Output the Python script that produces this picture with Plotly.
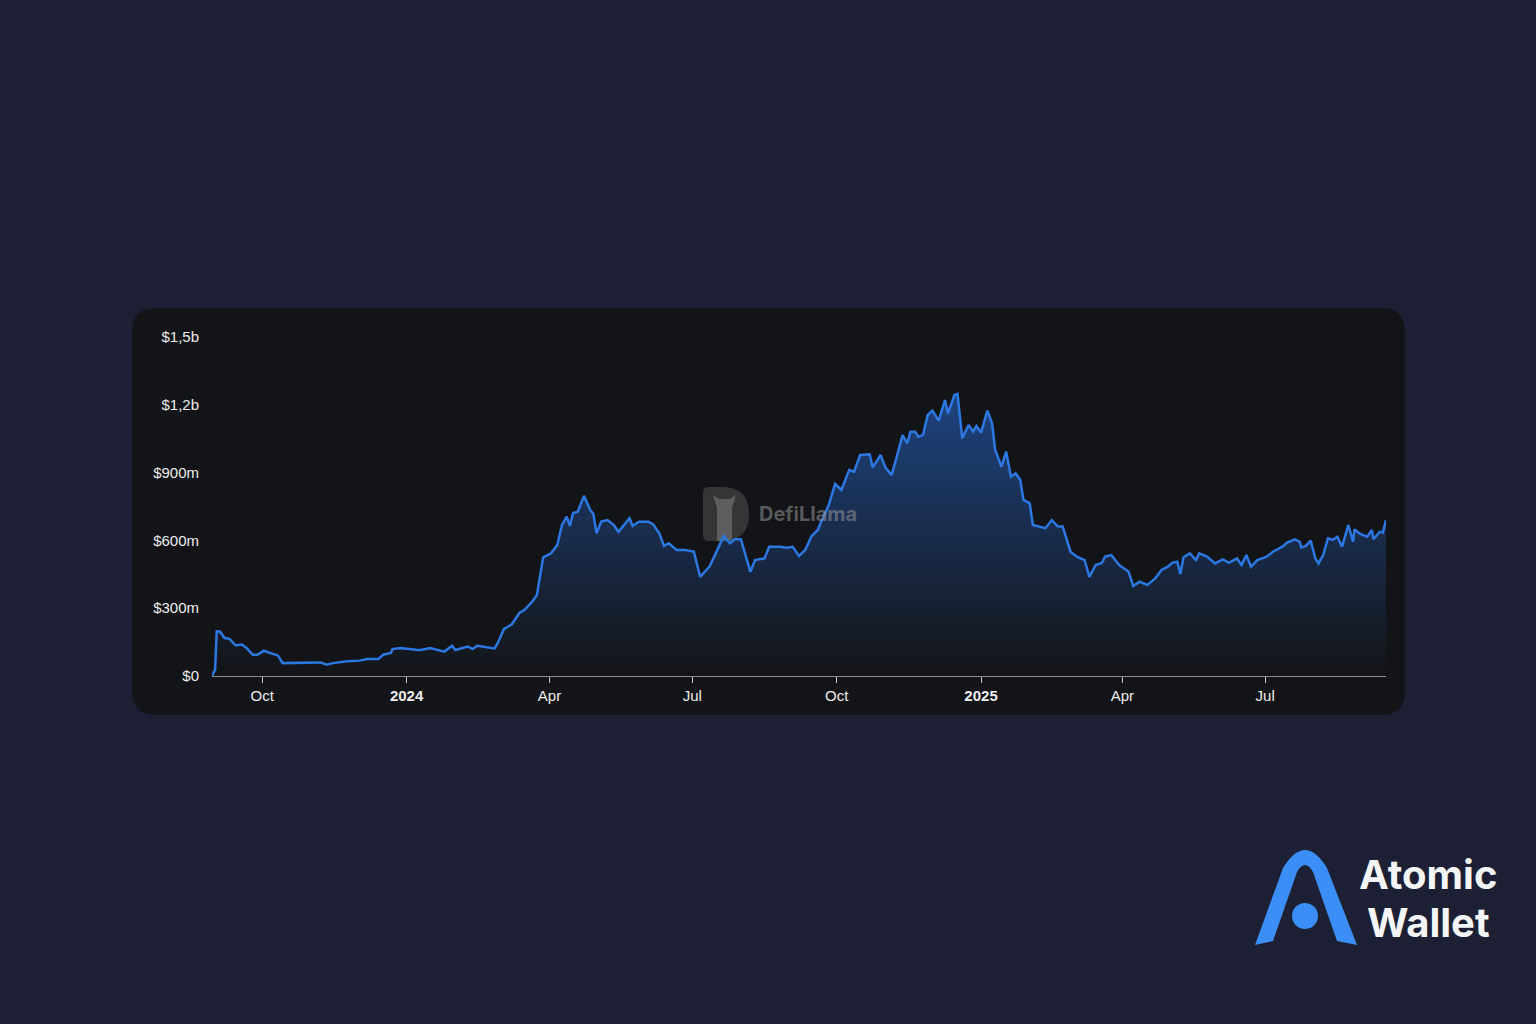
import plotly.graph_objects as go

# ---- data ----
dates = [
    "2023-08-30", "2023-09-01", "2023-09-02", "2023-09-04", "2023-09-07", "2023-09-10", "2023-09-14",
    "2023-09-18", "2023-09-21", "2023-09-25", "2023-09-28", "2023-10-02", "2023-10-06", "2023-10-11",
    "2023-10-14", "2023-10-19", "2023-10-29", "2023-11-07", "2023-11-11", "2023-11-15", "2023-11-24",
    "2023-12-02", "2023-12-07", "2023-12-14", "2023-12-17", "2023-12-22", "2023-12-23", "2023-12-28",
    "2024-01-07", "2024-01-10", "2024-01-16", "2024-01-19", "2024-01-25", "2024-01-30", "2024-02-01",
    "2024-02-09", "2024-02-12", "2024-02-15", "2024-02-21", "2024-02-26", "2024-02-28", "2024-03-03",
    "2024-03-08", "2024-03-13", "2024-03-16", "2024-03-21", "2024-03-24", "2024-03-28", "2024-04-02",
    "2024-04-06", "2024-04-09", "2024-04-12", "2024-04-14", "2024-04-16", "2024-04-19", "2024-04-23",
    "2024-04-27", "2024-04-29", "2024-05-01", "2024-05-04", "2024-05-08", "2024-05-12", "2024-05-15",
    "2024-05-18", "2024-05-22", "2024-05-24", "2024-05-28", "2024-06-03", "2024-06-06", "2024-06-10",
    "2024-06-13", "2024-06-16", "2024-06-21", "2024-06-26", "2024-07-02", "2024-07-06", "2024-07-12",
    "2024-07-17", "2024-07-21", "2024-07-25", "2024-07-28", "2024-08-01", "2024-08-07", "2024-08-10",
    "2024-08-16", "2024-08-19", "2024-08-26", "2024-08-30", "2024-09-03", "2024-09-07", "2024-09-11",
    "2024-09-15", "2024-09-19", "2024-09-21", "2024-09-26", "2024-09-30", "2024-10-04", "2024-10-09",
    "2024-10-12", "2024-10-16", "2024-10-22", "2024-10-24", "2024-10-29", "2024-11-01", "2024-11-05",
    "2024-11-08", "2024-11-12", "2024-11-15", "2024-11-17", "2024-11-20", "2024-11-22", "2024-11-25",
    "2024-11-28", "2024-12-01", "2024-12-05", "2024-12-09", "2024-12-11", "2024-12-15", "2024-12-17",
    "2024-12-20", "2024-12-24", "2024-12-27", "2024-12-29", "2025-01-01", "2025-01-05", "2025-01-08",
    "2025-01-10", "2025-01-14", "2025-01-17", "2025-01-20", "2025-01-23", "2025-01-26", "2025-01-28",
    "2025-02-01", "2025-02-03", "2025-02-11", "2025-02-15", "2025-02-19", "2025-02-22", "2025-02-27",
    "2025-03-03", "2025-03-08", "2025-03-11", "2025-03-15", "2025-03-19", "2025-03-21", "2025-03-25",
    "2025-03-30", "2025-04-05", "2025-04-08", "2025-04-12", "2025-04-17", "2025-04-22", "2025-04-26",
    "2025-04-30", "2025-05-03", "2025-05-06", "2025-05-08", "2025-05-10", "2025-05-14", "2025-05-18",
    "2025-05-20", "2025-05-25", "2025-05-30", "2025-06-04", "2025-06-08", "2025-06-13", "2025-06-16",
    "2025-06-19", "2025-06-22", "2025-06-26", "2025-07-02", "2025-07-06", "2025-07-12", "2025-07-15",
    "2025-07-20", "2025-07-23", "2025-07-24", "2025-07-27", "2025-07-30", "2025-08-02", "2025-08-04",
    "2025-08-07", "2025-08-10", "2025-08-13", "2025-08-16", "2025-08-19", "2025-08-23", "2025-08-26",
    "2025-08-27", "2025-08-30", "2025-09-04", "2025-09-07", "2025-09-08", "2025-09-12", "2025-09-14",
    "2025-09-16",
]
tvl_millions = [
    0, 28, 198, 197, 168, 165, 136,
    139, 124, 94, 94, 112, 102, 91,
    57, 57, 58, 60, 50, 57, 65,
    68, 75, 75, 94, 102, 119, 124,
    116, 115, 124, 119, 108, 134, 115,
    130, 119, 134, 127, 122, 145, 207,
    229, 280, 292, 329, 358, 525, 543,
    580, 668, 705, 664, 720, 727, 797,
    735, 717, 631, 683, 690, 668, 638,
    664, 698, 664, 683, 683, 672, 631,
    575, 587, 558, 558, 550, 439, 484,
    558, 619, 587, 605, 605, 461, 513,
    520, 572, 572, 568, 572, 531, 558,
    619, 646, 680, 757, 850, 823, 912,
    903, 978, 981, 923, 978, 923, 889,
    963, 1066, 1029, 1081, 1081, 1059, 1066,
    1155, 1174, 1130, 1221, 1162, 1243, 1248,
    1052, 1111, 1081, 1106, 1077, 1174, 1118,
    1000, 926, 993, 882, 897, 867, 779,
    764, 668, 654, 690, 661, 661, 550,
    528, 513, 439, 491, 500, 528, 535,
    491, 461, 398, 417, 403, 432, 469,
    484, 501, 506, 451, 525, 543, 513,
    543, 528, 498, 516, 501, 520, 491,
    535, 484, 513, 528, 550, 572, 590,
    605, 594, 569, 576, 599, 520, 498,
    535, 609, 602, 616, 572, 668, 594,
    649, 631, 616, 646, 605, 638, 635,
    690,
]
tick_dates = ["2023-10-01", "2024-01-01", "2024-04-01", "2024-07-01",
              "2024-10-01", "2025-01-01", "2025-04-01", "2025-07-01"]
tick_labels = ["Oct", "<b>2024</b>", "Apr", "Jul", "Oct", "<b>2025</b>", "Apr", "Jul"]
y_ticks = [0, 300e6, 600e6, 900e6, 1200e6, 1500e6]
y_tick_labels = ["$0", "$300m", "$600m", "$900m", "$1,2b", "$1,5b"]

tvl = [v * 1e6 for v in tvl_millions]

# ---- layout geometry ----
W, H = 1536, 1024
L, R, T, B = 212, 1386, 337, 676


def px(x):
    return (x - L) / (R - L)


def py(y):
    return (B - y) / (B - T)


def path_px(cmds):
    # cmds: list of (letter, [x, y, x, y, ...]) in pixel coords
    out = []
    for c, pts in cmds:
        seg = [c]
        for i in range(0, len(pts), 2):
            seg.append(f"{px(pts[i]):.6f},{py(pts[i + 1]):.6f}")
        out.append(" ".join(seg))
    return " ".join(out) + " Z"


def rounded_rect(x0, y0, x1, y1, r):
    return path_px([
        ("M", [x0 + r, y0]), ("L", [x1 - r, y0]), ("Q", [x1, y0, x1, y0 + r]),
        ("L", [x1, y1 - r]), ("Q", [x1, y1, x1 - r, y1]),
        ("L", [x0 + r, y1]), ("Q", [x0, y1, x0, y1 - r]),
        ("L", [x0, y0 + r]), ("Q", [x0, y0, x0 + r, y0]),
    ])


fig = go.Figure()
fig.add_trace(go.Scatter(
    x=dates, y=tvl, mode="lines",
    line=dict(color="#2c78e2", width=2.5),
    fill="tozeroy",
    fillgradient=dict(type="vertical", start=0, stop=1.3e9,
                      colorscale=[[0, "rgba(40,110,220,0.0)"],
                                  [1, "rgba(40,110,220,0.55)"]]),
    hoverinfo="skip", showlegend=False,
))

shapes = [
    # panel
    dict(type="path", xref="paper", yref="paper", layer="below",
         path=rounded_rect(132, 308, 1405, 715, 24),
         fillcolor="#131417", line=dict(width=0)),
    # DefiLlama watermark logo (D shape)
    dict(type="path", xref="paper", yref="paper", layer="below",
         path=path_px([("M", [709, 487]), ("L", [722, 487]),
                       ("Q", [749, 487, 749, 514]), ("Q", [749, 541, 722, 541]),
                       ("L", [709, 541]), ("Q", [703, 541, 703, 535]),
                       ("L", [703, 493]), ("Q", [703, 487, 709, 487])]),
         fillcolor="rgba(85,85,85,0.5)", line=dict(width=0)),
    dict(type="path", xref="paper", yref="paper", layer="below",
         path=path_px([("M", [717, 541]), ("L", [717, 508]), ("L", [713, 495]),
                       ("L", [719, 499]), ("L", [730, 499]), ("L", [736, 495]),
                       ("L", [732, 508]), ("L", [732, 541])]),
         fillcolor="rgba(135,135,135,0.5)", line=dict(width=0)),
    # Atomic Wallet logo
    dict(type="path", xref="paper", yref="paper",
         path=path_px([("M", [1255, 945]), ("L", [1283, 868]),
                       ("Q", [1305, 832, 1327, 868]), ("L", [1357, 945]),
                       ("L", [1337, 941]), ("L", [1313, 872]),
                       ("Q", [1305, 858, 1297, 872]), ("L", [1273, 941])]),
         fillcolor="#3a8ef6", line=dict(width=0)),
    dict(type="circle", xref="paper", yref="paper",
         x0=px(1292), x1=px(1318), y0=py(903), y1=py(929),
         fillcolor="#3a8ef6", line=dict(width=0)),
]

annotations = [
    dict(text="<b>DefiLlama</b>", x=px(757), y=py(514), xref="paper", yref="paper",
         xanchor="left", yanchor="middle", showarrow=False,
         font=dict(family="Inter, Noto Sans, sans-serif", size=20,
                   color="rgba(150,150,150,0.55)")),
    dict(text="<b>Atomic</b>", x=px(1428), y=py(874), xref="paper", yref="paper",
         xanchor="center", yanchor="middle", showarrow=False,
         font=dict(family="Inter, Roboto, sans-serif", size=40, color="#f4f5f7")),
    dict(text="<b>Wallet</b>", x=px(1428), y=py(922), xref="paper", yref="paper",
         xanchor="center", yanchor="middle", showarrow=False,
         font=dict(family="Inter, Roboto, sans-serif", size=40, color="#f4f5f7")),
]

fig.update_layout(
    width=W, height=H,
    margin=dict(l=L, r=W - R, t=T, b=H - B, pad=0),
    paper_bgcolor="#1d2034",
    plot_bgcolor="rgba(0,0,0,0)",
    shapes=shapes,
    annotations=annotations,
    showlegend=False,
    xaxis=dict(
        type="date", range=["2023-08-30", "2025-09-16"],
        tickmode="array", tickvals=tick_dates, ticktext=tick_labels,
        showgrid=False, zeroline=False,
        showline=True, linecolor="rgba(190,190,190,0.7)", linewidth=1,
        ticks="outside", ticklen=6, tickwidth=1, tickcolor="rgba(220,220,220,0.9)",
        tickfont=dict(family="Liberation Sans, Arial, sans-serif", size=15, color="#ececec"),
        fixedrange=True,
    ),
    yaxis=dict(
        range=[0, 1.5e9],
        tickmode="array", tickvals=y_ticks, ticktext=y_tick_labels,
        showgrid=False, zeroline=False, showline=False,
        ticks="", ticklabelstandoff=12,
        tickfont=dict(family="Liberation Sans, Arial, sans-serif", size=15, color="#ececec"),
        fixedrange=True,
    ),
)

fig.write_html(
    "out.html",
    config={"displayModeBar": False},
    post_script="document.body.style.margin='0';document.body.style.background='#1d2034';",
)
